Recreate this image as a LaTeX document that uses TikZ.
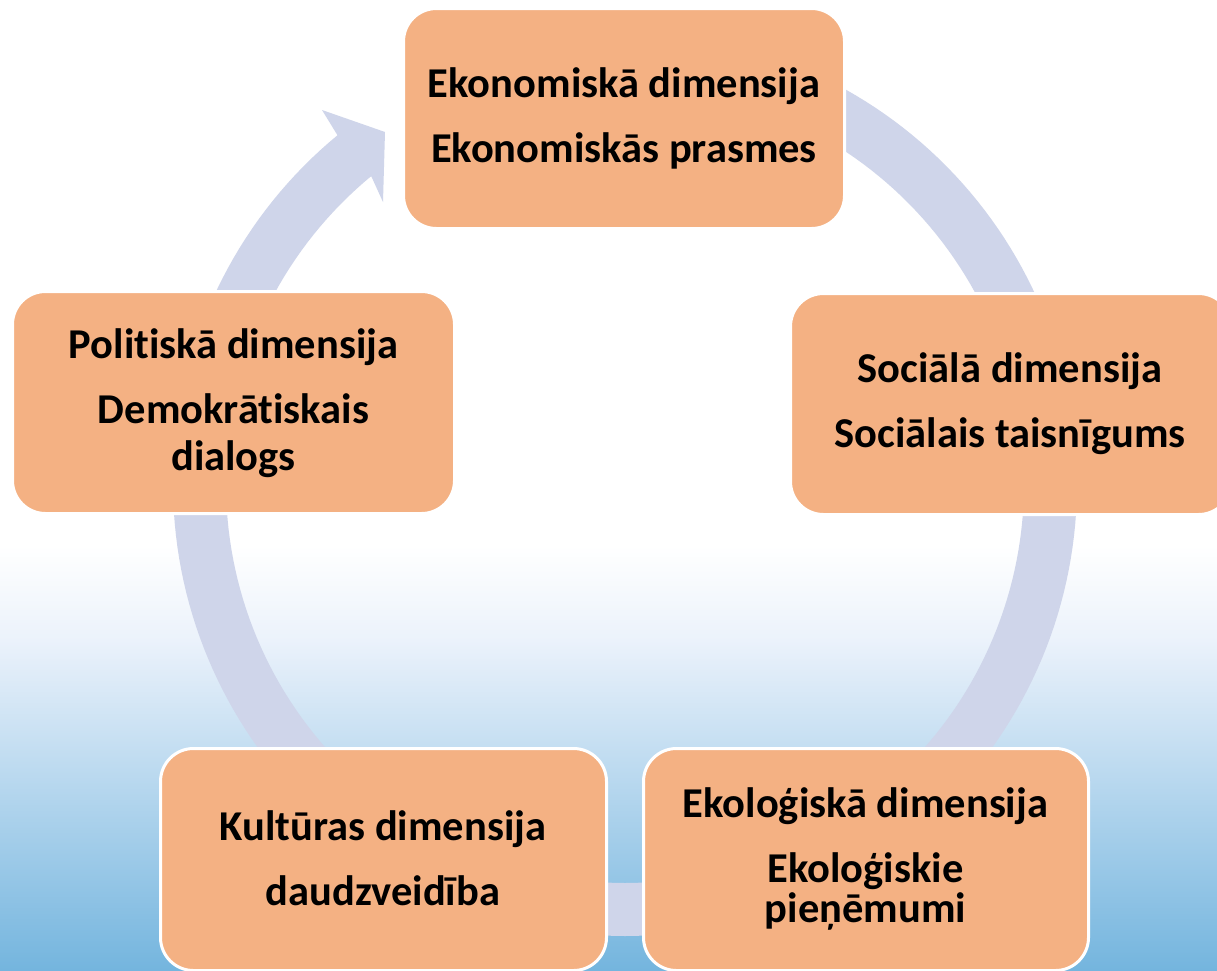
\documentclass[tikz,border=0pt]{standalone}
\usepackage{fontspec}
\setmainfont{Carlito}[Ligatures=NoCommon]
\definecolor{boxorange}{HTML}{F4B183}
\definecolor{ringcol}{HTML}{CFD5EA}
\definecolor{bgmid}{HTML}{EBF2FB}
\definecolor{bgbot}{HTML}{74B5DE}
\tikzset{
  dimbox/.style={draw=white, line width=3pt, fill=boxorange, rounded corners=33pt,
                 inner sep=0pt, outer sep=0pt},
  lbl/.style={anchor=base, inner sep=0pt, text=black,
              font=\bfseries\fontsize{42.5pt}{49pt}\selectfont},
}
\begin{document}
\begin{tikzpicture}[x=1pt,y=-1pt]
\useasboundingbox (0,0) rectangle (1217,970);
\clip (0,0) rectangle (1217,970);
% background
\fill[white] (0,0) rectangle (1217,970);
\shade[top color=white, bottom color=bgmid] (0,545) rectangle (1217,641);
\shade[top color=bgmid, bottom color=bgbot] (0,640) rectangle (1217,970);
% cycle ring with arrow head
\fill[ringcol]
  plot[domain=-90:230.5, samples=220] ({625+452*cos(\x)},{484+452*sin(\x)})
  -- (322,110) -- (385,132) -- (383,202)
  -- plot[domain=230.5:-90, samples=220] ({625+399*cos(\x)},{484+399*sin(\x)})
  -- cycle;
% boxes
\node[dimbox, minimum width=441pt, minimum height=220pt] (eko) at (624,118.5) {};
\node[dimbox, minimum width=441pt, minimum height=221pt] (soc) at (1011,404) {};
\node[dimbox, minimum width=442pt, minimum height=222pt] (pol) at (233.5,402.5) {};
\node[dimbox, minimum width=446pt, minimum height=222pt] (kul) at (383.5,859.5) {};
\node[dimbox, minimum width=445pt, minimum height=222pt] (ekol) at (866,859.5) {};
% texts
\node[lbl] (eko1) at (624,97) {Ekonomiskā dimensija};
\node[lbl] (eko2) at (624,162) {Ekonomiskās prasmes};
\node[lbl] (soc1) at (1010,382.5) {Sociālā dimensija};
\node[lbl] (soc2) at (1010,447) {Sociālais taisnīgums};
\node[lbl] (pol1) at (233.5,358) {Politiskā dimensija};
\node[lbl] (pol2) at (233.5,423) {Demokrātiskais};
\node[lbl] (pol3) at (233.5,470) {dialogs};
\node[lbl] (kul1) at (383,840) {Kultūras dimensija};
\node[lbl] (kul2) at (383,905.5) {daudzveidība};
\node[lbl] (ekol1) at (865.5,817) {Ekoloģiskā dimensija};
\node[lbl] (ekol2) at (865.5,882) {Ekoloģiskie};
\node[lbl] (ekol3) at (865.5,922) {pieņēmumi};
\end{tikzpicture}
\end{document}
